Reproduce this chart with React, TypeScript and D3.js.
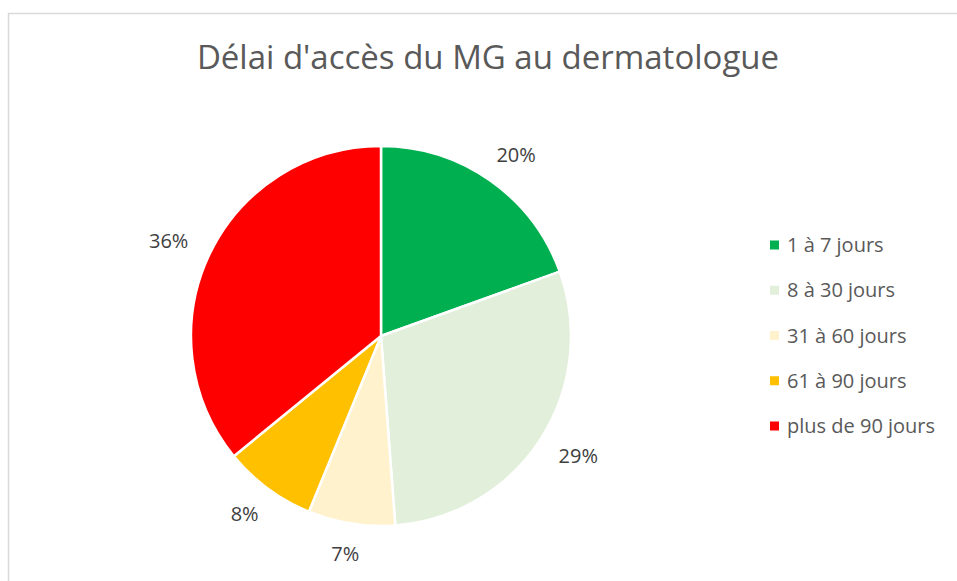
import { useRef, useEffect } from "react";
import * as d3 from "d3";

const categories = ["1 à 7 jours", "8 à 30 jours", "31 à 60 jours", "61 à 90 jours", "plus de 90 jours"];
const shares = [19.5, 29.3, 7.4, 7.9, 35.9];
const colors = ["#00b050", "#e2efda", "#fff2cc", "#ffc000", "#ff0000"];
const title = "Délai d'accès du MG au dermatologue";

const App = () => {
  const svgRef = useRef<SVGSVGElement>(null);

  useEffect(() => {
    const svg = d3.select(svgRef.current);
    svg.selectAll("*").remove();

    const width = 957;
    const height = 581;
    const cx = 381;
    const cy = 336;
    const r = 190;
    const font = "'Open Sans', sans-serif";

    // chart border (only top and left visible in the crop)
    svg
      .append("rect")
      .attr("x", 8.5)
      .attr("y", 13.5)
      .attr("width", width + 20)
      .attr("height", height + 20)
      .attr("fill", "white")
      .attr("stroke", "#d9d9d9")
      .attr("stroke-width", 1.5);

    svg
      .append("text")
      .attr("x", 488)
      .attr("y", 69)
      .attr("text-anchor", "middle")
      .attr("font-family", font)
      .attr("font-size", 33)
      .attr("fill", "#595959")
      .text(title);

    const data = shares.map((v, i) => ({ v, i }));
    const pie = d3.pie<{ v: number; i: number }>().value((d) => d.v).sort(null);
    const arcs = pie(data);
    const arc = d3.arc<d3.PieArcDatum<{ v: number; i: number }>>().innerRadius(0).outerRadius(r);

    const g = svg.append("g").attr("transform", `translate(${cx},${cy})`);

    g.selectAll("path")
      .data(arcs)
      .join("path")
      .attr("d", arc)
      .attr("fill", (d) => colors[d.data.i])
      .attr("stroke", "white")
      .attr("stroke-width", 2.5)
      .attr("stroke-linejoin", "round");

    // outside-end labels
    arcs.forEach((d) => {
      const a = (d.startAngle + d.endAngle) / 2;
      const s = Math.sin(a);
      const c = -Math.cos(a);
      const label = `${Math.round(d.data.v)}%`;
      const hw = 10 + label.length * 6;
      const hh = 14;
      const rr = r + 17;
      g.append("text")
        .attr("x", s * (rr + hw))
        .attr("y", c * (rr + hh))
        .attr("dy", "0.35em")
        .attr("text-anchor", "middle")
        .attr("font-family", font)
        .attr("font-size", 20)
        .attr("fill", "#404040")
        .text(label);
    });

    const legendY = d3.scalePoint<string>().domain(categories).range([245, 426]);
    const legend = svg.append("g");
    categories.forEach((cat, i) => {
      const y = legendY(cat)!;
      legend
        .append("rect")
        .attr("x", 770)
        .attr("y", y - 4.5)
        .attr("width", 9)
        .attr("height", 9)
        .attr("fill", colors[i]);
      legend
        .append("text")
        .attr("x", 787)
        .attr("y", y)
        .attr("dy", "0.35em")
        .attr("font-family", font)
        .attr("font-size", 20)
        .attr("fill", "#595959")
        .text(cat);
    });
  }, []);

  return <svg ref={svgRef} width="957" height="581" style={{ position: "absolute", left: 0, top: 0 }} />;
};

export default App;
